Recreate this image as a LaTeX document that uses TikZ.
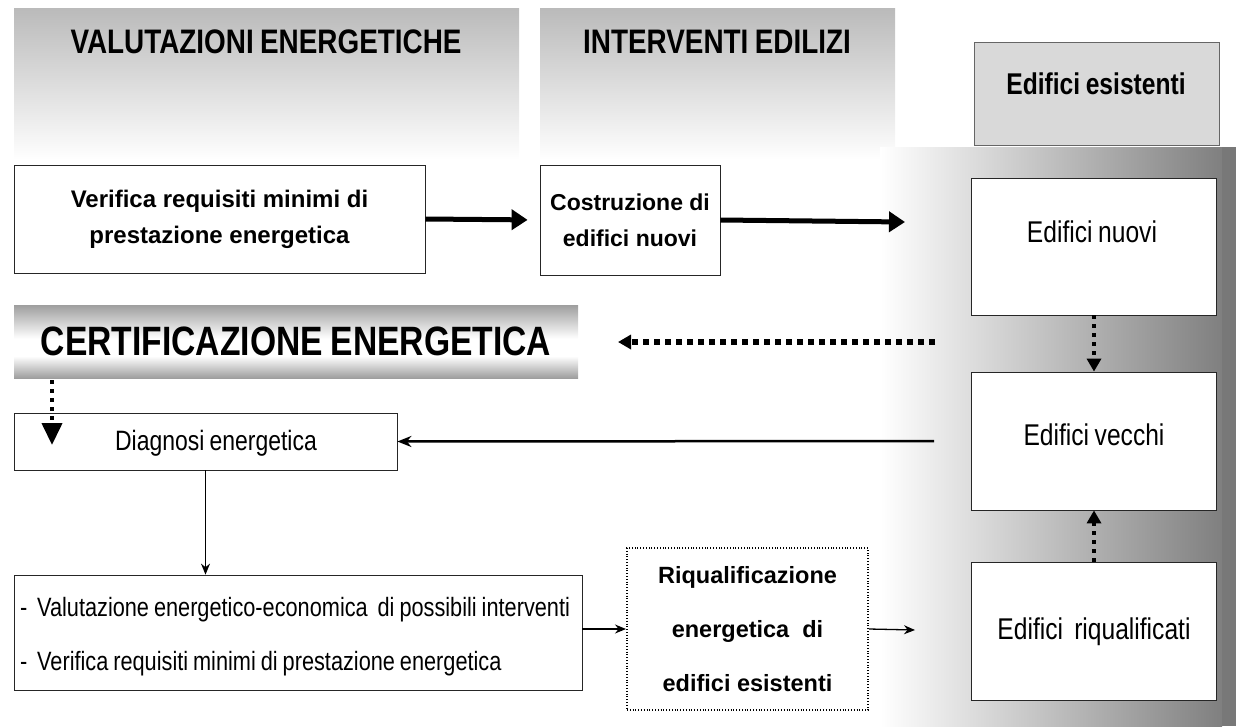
\documentclass[tikz,border=0pt]{standalone}
\usepackage{fontspec}
\setmainfont{Liberation Sans}
\newfontfamily\narrowfont[FakeStretch=0.82,WordSpace=0.82]{Liberation Sans}
\usetikzlibrary{arrows.meta}
\pgfdeclareverticalshading{certshade}{100bp}{color(0bp)=(black!38); color(25bp)=(black!38);
  color(40bp)=(white); color(52bp)=(white); color(75bp)=(black!38); color(100bp)=(black!38)}

\begin{document}
\begin{tikzpicture}[x=1pt,y=-1pt,>=Stealth,
    box/.style={draw=black!85,fill=white,line width=0.8pt,inner sep=0pt},
    headtext/.style={font=\narrowfont\bfseries\fontsize{34}{36}\selectfont},
    boldtext/.style={font=\fontsize{24}{36}\selectfont\bfseries,align=center},
    thintext/.style={font=\narrowfont\fontsize{30}{32}\selectfont},
    fatarrow/.style={-{Triangle[length=16pt,width=20pt]},line width=5pt},
    dotarrow/.style={-{Triangle[length=13pt,width=14pt]},line width=5pt,dash pattern=on 5pt off 5pt},
    thinarrow/.style={-{Stealth[length=11pt,width=9pt]},line width=1.3pt}]
    \useasboundingbox (0,0) rectangle (1236,726);
    % background shadings
    \shade [top color=black!27,bottom color=white] (14,8) rectangle (519,160);
    \shade [top color=black!27,bottom color=white] (540,8) rectangle (895,160);
    \shade [left color=white,right color=black!50] (880,147) rectangle (1222,726);
    \fill [black!53] (1222,147) rectangle (1236,726);
    \shade [shading=certshade] (14,305) rectangle (578,378);
    % headers
    \node [headtext] (hval) at (266,42) {VALUTAZIONI ENERGETICHE};
    \node [headtext] (hint) at (717,42) {INTERVENTI EDILIZI};
    \node [draw=black!60,fill=black!15,line width=0.8pt,minimum width=245,minimum height=103] (esist) at (1096.5,93.5) {};
    \node [font=\narrowfont\bfseries\fontsize{30}{32}\selectfont] (esistlbl) at (1096,84) {Edifici esistenti};
    \node [font=\narrowfont\bfseries\fontsize{41}{44}\selectfont] (cert) at (296,341) {CERTIFICAZIONE ENERGETICA};
    % boxes
    \node [box,minimum width=411,minimum height=108,boldtext] (verif) at (219.5,219) {Verifica requisiti minimi di\\prestazione energetica};
    \node [box,minimum width=180,minimum height=110,boldtext,font=\fontsize{23}{36}\selectfont\bfseries] (costr) at (630,220) {Costruzione di\\edifici nuovi};
    \node [box,minimum width=245,minimum height=137] (nuovi) at (1094,246.5) {};
    \node [thintext] (nuovilbl) at (1092,232) {Edifici nuovi};
    \node [box,minimum width=245,minimum height=138] (vecchi) at (1094,441) {};
    \node [thintext] (vecchilbl) at (1094,435) {Edifici vecchi};
    \node [box,minimum width=245,minimum height=138] (riqual) at (1094,631) {};
    \node [thintext] (riquallbl) at (1094,632) {Edifici\ \ riqualificati};
    \node [box,minimum width=383,minimum height=57] (diagn) at (205.5,441.5) {};
    \node [thintext,font=\narrowfont\fontsize{28}{30}\selectfont] (diagnlbl) at (216,443) {Diagnosi energetica};
    \node [box,minimum width=568,minimum height=115,text width=556,align=flush left,
        font=\narrowfont\fontsize{26.5}{54}\selectfont] (valut) at (298,632.5)
        {\strut-\ \ Valutazione energetico-economica\ \ di possibili interventi\\
         \strut-\ \ Verifica requisiti minimi di prestazione energetica};
    \node [box,draw=black,dotted,line width=2pt,minimum width=241,minimum height=162,
        font=\fontsize{23.5}{54}\selectfont\bfseries,align=center] (riq) at (747.5,629)
        {Riqualificazione\\energetica\ \ di\\edifici esistenti};
    % free ends
    \coordinate (costrend) at (905,222);
    \coordinate (certstart) at (935,342);
    \coordinate (certend) at (618,342);
    \coordinate (riqend) at (915,630);
    % connectors
    \draw [fatarrow,shorten >=12pt] (verif.east) -- (costr.west);
    \draw [fatarrow] (costr.east) -- (costrend);
    \draw [dotarrow,line width=4pt,dash pattern=on 4pt off 5pt] (nuovi.south) -- (vecchi.north);
    \draw [dotarrow,line width=4pt,dash pattern=on 4pt off 5pt] (riqual.north) -- (vecchi.south);
    \draw [dotarrow,line width=6pt,dash pattern=on 6pt off 5pt] (certstart) -- (certend);
    \draw [-{Stealth[length=14pt,width=11pt]},line width=2.5pt] ([xshift=-37pt]vecchi.west) -- (diagn.east);
    \draw [dotarrow,line width=4pt,dash pattern=on 4pt off 5pt,
        -{Triangle[length=22pt,width=20pt]}] (52,380) -- (52,445);
    \draw [thinarrow] (diagn.south) -- (valut.north -| diagn.south);
    \draw [thinarrow] (valut.east |- riq.west) -- (riq.west);
    \draw [thinarrow] (riq.east) -- (riqend);
\end{tikzpicture}
\end{document}
